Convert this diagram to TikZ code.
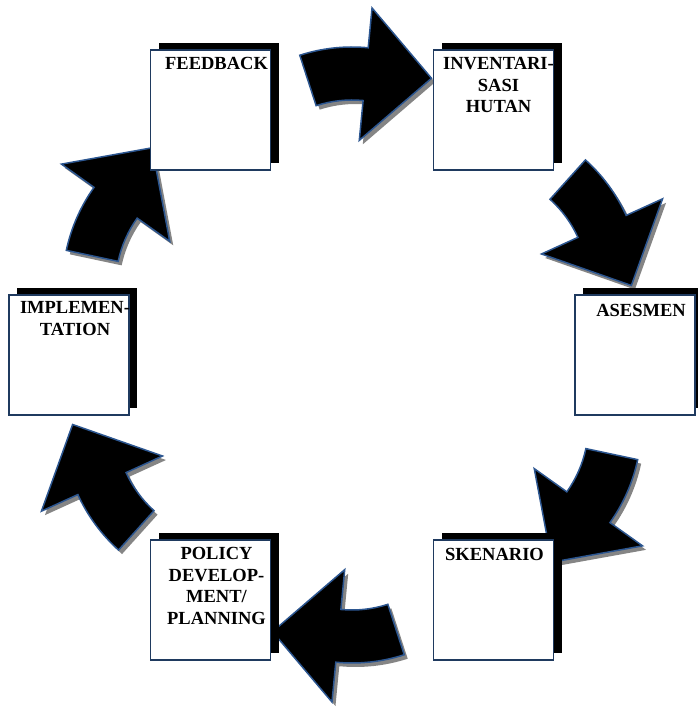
\documentclass[tikz,border=0pt]{standalone}
\usepackage{fontspec}
\setmainfont{Liberation Serif}
\usetikzlibrary{calc}
\definecolor{boxline}{HTML}{1F3A5F}
\definecolor{arrline}{HTML}{2C5690}
\definecolor{arrshadow}{HTML}{858585}
\tikzset{
  stagebox/.style={draw=boxline, line width=1.6pt, fill=white, minimum width=120pt, minimum height=120pt, inner sep=0pt, outer sep=0pt},
  boxshadow/.style={fill=black, minimum width=120pt, minimum height=120pt, inner sep=0pt, outer sep=0pt},
  stagetext/.style={anchor=north, align=center, inner sep=0pt, font=\bfseries\fontsize{18.5}{21.5}\selectfont},
  arrbody/.style={fill=black, draw=arrline, line width=1.5pt, line join=miter},
  arrshade/.style={fill=arrshadow},
}
\newcommand{\cyclearrowpath}[2]{% #1 = centre coordinate name, #2 = angle
  ($(#1)+(#2+18:169)$) arc[start angle=#2+18, end angle=#2-5.5, radius=169]
  -- ($(#1)+(#2-5.5:209)$) -- ($(#1)+(#2-30:159)$) -- ($(#1)+(#2-5.5:76)$)
  -- ($(#1)+(#2-5.5:116)$) arc[start angle=#2-5.5, end angle=#2+18, radius=116] -- cycle}
\begin{document}
\begin{tikzpicture}[x=1pt,y=1pt]
\useasboundingbox (0,0) rectangle (697,708);
\coordinate (O) at (352,353);
% arrows
\foreach \a/\n in {90/1,30/2,-30/3,-90/4,-150/5,150/6}{
  \coordinate (c\n) at ($(O)+(\a:139)$);
  \coordinate (s\n) at ($(c\n)+(3.5,-4)$);
  \path[arrshade] \cyclearrowpath{s\n}{\a};
  \path[arrbody] \cyclearrowpath{c\n}{\a};
}
% boxes
\foreach \n/\x/\y in {fb/210.5/598, inv/493.5/598, ase/635/353, ske/493.5/108, pol/210.5/108, imp/69/353}{
  \node[boxshadow] (\n s) at (\x+8,\y+7) {};
  \node[stagebox] (\n) at (\x,\y) {};
}
\node[stagetext] (fbT) at ($(fb.north)+(6,-7.5)$) {FEEDBACK};
\node[stagetext] (invT) at ($(inv.north)+(5,-7.5)$) {INVENTARI-\\SASI\\HUTAN};
\node[stagetext] (aseT) at ($(ase.north)+(6,-9)$) {ASESMEN};
\node[stagetext] (skeT) at ($(ske.north)+(1,-8.5)$) {SKENARIO};
\node[stagetext] (polT) at ($(pol.north)+(6,-7.5)$) {POLICY\\DEVELOP-\\MENT/\\PLANNING};
\node[stagetext] (impT) at ($(imp.north)+(6,-6.5)$) {IMPLEMEN-\\TATION};
\end{tikzpicture}
\end{document}
